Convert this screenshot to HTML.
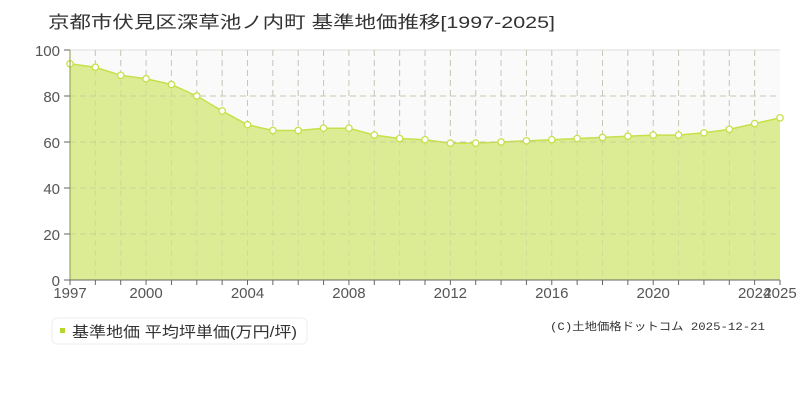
<!DOCTYPE html>
<html><head><meta charset="utf-8"><style>
body{margin:0;width:800px;height:400px;background:#fff;overflow:hidden;font-family:"Liberation Sans","Noto Sans CJK JP",sans-serif}
</style></head><body>
<svg id="c" width="800" height="400" xmlns="http://www.w3.org/2000/svg" font-family="Liberation Sans, Noto Sans CJK JP, sans-serif">
<text x="48" y="28" font-size="17" fill="#333" textLength="507" lengthAdjust="spacingAndGlyphs">京都市伏見区深草池ノ内町 基準地価推移[1997-2025]</text>
<rect x="70" y="50" width="710" height="230" fill="#fbfafb"/>
<line x1="70" y1="50" x2="780" y2="50" stroke="#ddd"/>
<g id="g"></g>
<rect x="52" y="318" width="255" height="26" rx="5" fill="#fff" stroke="#eee"/>
<rect x="60" y="328" width="5" height="5" fill="#b5d62b"/>
<text x="72" y="337" font-size="15" fill="#333" textLength="225" lengthAdjust="spacingAndGlyphs">基準地価 平均坪単価(万円/坪)</text>
<text x="550" y="330" font-size="11" fill="#333" font-family="Liberation Mono, Noto Sans CJK JP, monospace" textLength="215" lengthAdjust="spacingAndGlyphs">(C)土地価格ドットコム 2025-12-21</text>
</svg>
<script>
var v=[94,92.5,89,87.5,85,80,73.5,67.5,65,65,66,66,63,61.5,61,59.5,59.5,60,60.5,61,61.5,62,62.5,63,63,64,65.5,68,70.5];
var X=function(i){return 70+i*710/28},Y=function(a){return 280-a*2.3};
var s='';
for(var i=1;i<28;i++){s+='<line x1="'+X(i)+'" y1="50" x2="'+X(i)+'" y2="280" stroke="#ccc" stroke-dasharray="6,4"/>';}
for(var a=20;a<=80;a+=20){s+='<line x1="70" y1="'+Y(a)+'" x2="780" y2="'+Y(a)+'" stroke="#ccc" stroke-dasharray="6,4"/>';}
var p='M70,280';v.forEach(function(a,i){p+=' L'+X(i)+','+Y(a)});p+=' L780,280Z';
s+='<path d="'+p+'" fill="#dcec94"/>';
var l='';v.forEach(function(a,i){l+=(i?' L':'M')+X(i)+','+Y(a)});
s+='<path d="'+l+'" fill="none" stroke="#c6e04a" stroke-width="1.5"/>';
for(var a=20;a<=80;a+=20){s+='<line x1="70" y1="'+Y(a)+'" x2="780" y2="'+Y(a)+'" stroke="#bcc79a" stroke-dasharray="6,4" opacity="0.6"/>';}
for(var i=1;i<28;i++){s+='<line x1="'+X(i)+'" y1="50" x2="'+X(i)+'" y2="280" stroke="#bcc79a" stroke-dasharray="6,4" opacity="0.4"/>';}
v.forEach(function(a,i){s+='<circle cx="'+X(i)+'" cy="'+Y(a)+'" r="3.2" fill="#fff" stroke="#c6e04a" stroke-width="1.3"/>'});
s+='<line x1="70" y1="50" x2="70" y2="280" stroke="#8a9a4a"/><line x1="70" y1="280" x2="780" y2="280" stroke="#666"/>';
for(var a=0;a<=100;a+=20){s+='<line x1="64" y1="'+Y(a)+'" x2="70" y2="'+Y(a)+'" stroke="#666"/><text x="60" y="'+(Y(a)+6)+'" font-size="15" fill="#555" text-anchor="end">'+a+'</text>';}
for(var i=0;i<=28;i++){s+='<line x1="'+X(i)+'" y1="280" x2="'+X(i)+'" y2="285" stroke="#666"/>';}
[1997,2000,2004,2008,2012,2016,2020,2024,2025].forEach(function(y){s+='<text x="'+X(y-1997)+'" y="298" font-size="15" fill="#555" text-anchor="middle">'+y+'</text>'});
document.getElementById('g').innerHTML=s;
</script>
</body></html>
